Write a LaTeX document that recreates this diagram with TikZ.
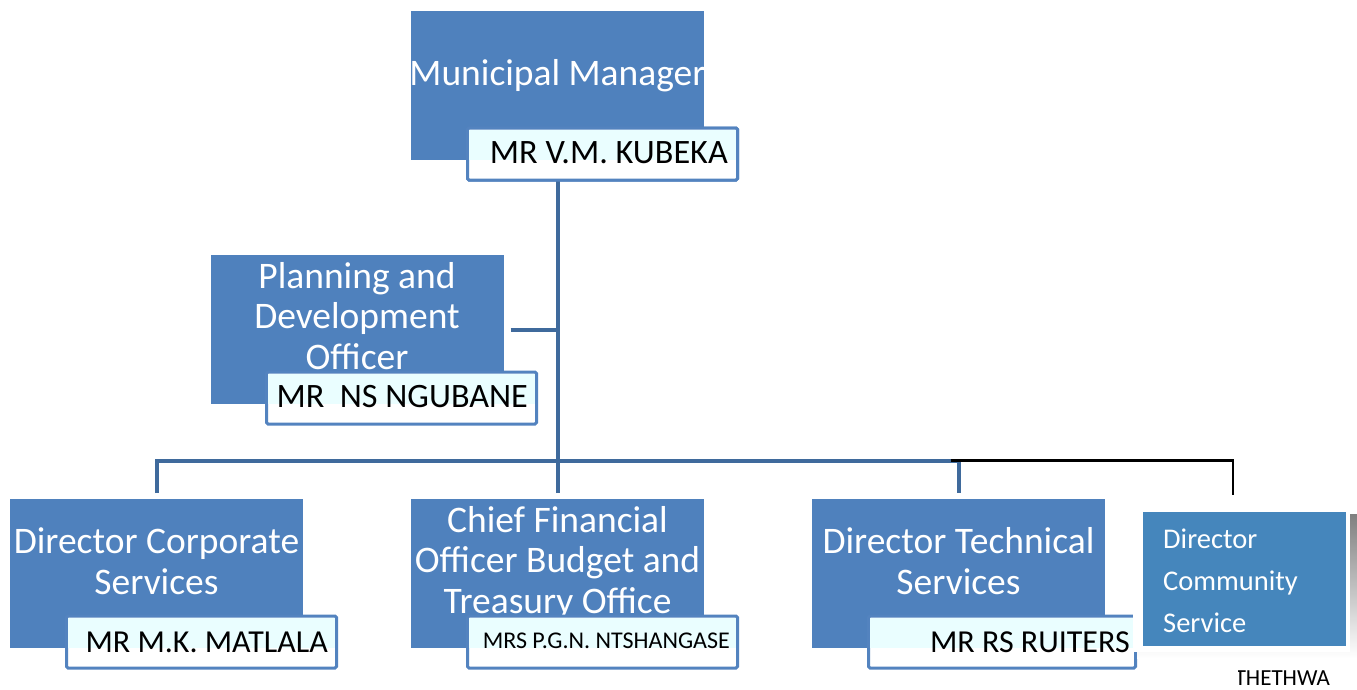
\documentclass[tikz,border=0pt]{standalone}
\usepackage{fontspec}
\setmainfont{Carlito}
\definecolor{boxblue}{HTML}{4F81BD}
\definecolor{nameblue}{HTML}{5383BF}
\definecolor{linkblue}{HTML}{3F6A9C}
\definecolor{commblue}{HTML}{4586BC}
\definecolor{tint}{HTML}{EAFEFF}
\definecolor{shade}{HTML}{A3A9B0}
\newcommand\titlesize{\fontsize{37.5}{40.5}\selectfont}
\newcommand\namesize{\fontsize{32}{36}\selectfont}
\newcommand\bignamesize{\fontsize{34.2}{38}\selectfont}
\newcommand\smallnamesize{\fontsize{24}{28}\selectfont}
\newcommand\commsize{\fontsize{28.5}{42}\selectfont}
\tikzset{
  unit/.style={fill=boxblue, draw=none, minimum width=293, minimum height=149, inner sep=0, outer sep=0},
  namebox/.style={draw=nameblue, line width=3, fill=white, rounded corners=1.5,
                  minimum width=270, minimum height=52, inner sep=0, outer sep=0},
  title/.style={text=white, font=\titlesize, align=center, inner sep=0, anchor=base},
  who/.style={text=black, font=\namesize, inner sep=0, anchor=base east},
  conn/.style={draw=linkblue, line width=4},
  tie/.style={draw=black, line width=2.2},
}
\begin{document}
\begin{tikzpicture}[x=1pt, y=-1pt]
\useasboundingbox (0,0) rectangle (1357,689);

% ---- boxes and connectors (name plates sit on top later) ----
\node[unit] (mm)   at (557.5,85.5) {};
\node[unit] (plan) at (357,329.5) {};
\node[unit] (corp) at (156.5,573.5) {};
\node[unit] (cfo)  at (557.5,573.5) {};
\node[unit] (tech) at (958.5,573.5) {};
\coordinate (bar) at (557.5,460.5);
\coordinate (commtop) at (1233,495);

\node[namebox] (mmname) at (602.5,154) {};
\draw[conn] (mm.south |- mmname.south) -- (bar);
\draw[conn] ([xshift=7pt]plan.east) -- (plan.east -| mm.south);
\draw[conn] ([yshift=6pt]corp.north) -- (corp.north |- bar) -- (tech.north |- bar) -- ([yshift=6pt]tech.north);
\draw[conn] ([yshift=6pt]cfo.north) -- (cfo.north |- bar);
\draw[tie] ([xshift=-8pt]tech.north |- bar) -- (commtop |- bar) -- (commtop);

% ---- titles (placed by the baseline of their last line) ----
\node[title] (mmt) at (557.5,85) {Municipal Manager};
\node[title] (plant) at (357,369) {Planning and\\Development\\Officer};
\node[title] (corpt) at (156.5,594) {Director Corporate\\Services};
\node[title] (cfot) at (557.5,613) {Chief Financial\\Officer Budget and\\Treasury Office};
\node[title] (techt) at (958.5,594) {Director Technical\\Services};

% ---- name plates ----
\node[namebox] (mmname) at (602.5,154) {};
\fill[tint] ([shift={(1.5pt,-1.5pt)}]mmname.north west) rectangle ([xshift=-1.5pt]mmname.east |- mm.south);
\node[who, font=\bignamesize] (mmw) at (728,163) {MR V.M. KUBEKA};

\node[namebox] (planname) at (401.5,398) {};
\fill[tint] ([shift={(1.5pt,-1.5pt)}]planname.north west) rectangle ([xshift=-1.5pt]planname.east |- plan.south);
\node[who, font=\bignamesize] (planw) at (528,407) {MR\ \ NS NGUBANE};

\node[namebox] (corpname) at (201.5,642) {};
\fill[tint] ([shift={(1.5pt,-1.5pt)}]corpname.north west) rectangle ([xshift=-1.5pt]corpname.east |- corp.south);
\node[who] (corpw) at (328,652) {MR M.K. MATLALA};

\node[namebox] (cfoname) at (602.5,642) {};
\fill[tint] ([shift={(1.5pt,-1.5pt)}]cfoname.north west) rectangle ([xshift=-1.5pt]cfoname.east |- cfo.south);
\node[who, font=\smallnamesize] (cfow) at (730,648) {MRS P.G.N. NTSHANGASE};

\node[namebox, minimum width=267] (techname) at (1002,642) {};
\fill[tint] ([shift={(1.5pt,-1.5pt)}]techname.north west) rectangle ([xshift=-1.5pt]techname.east |- tech.south);
\node[who] (techw) at (1130,652) {MR RS RUITERS};

% ---- community services box with its frame and shadow ----
\fill[shade] (1137,514) rectangle (1357,658);
\fill[white] (1133,509) rectangle (1350,652);
\node[fill=commblue, minimum width=203, minimum height=134, inner sep=0, outer sep=0] (comm) at (1244.5,579) {};
\node[text=white, font=\commsize, align=left, anchor=base west, inner sep=0] (commt) at (1163,632) {Director\\Community\\Service};

% ---- footer text, partly hidden on its left ----
\begin{scope}
  \clip (1238,660) rectangle (1357,689);
  \node[text=black, font=\fontsize{23}{26}\selectfont, anchor=base east, inner sep=0] (foot) at (1330,685) {THETHWA};
\end{scope}
\end{tikzpicture}
\end{document}
